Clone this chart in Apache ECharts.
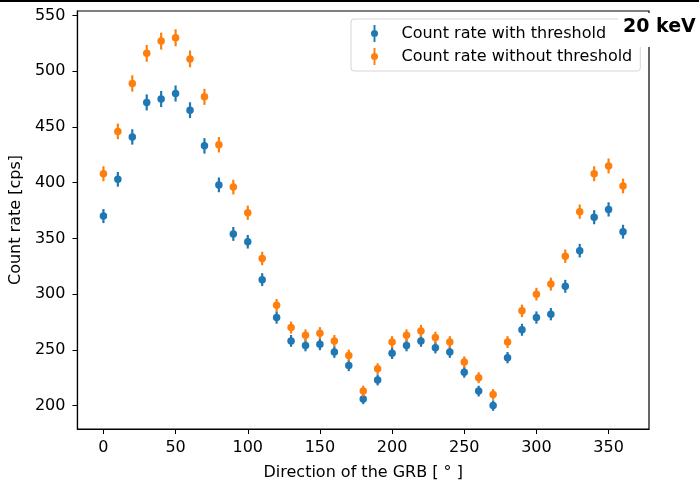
<!DOCTYPE html>
<html>
<head>
<meta charset="utf-8">
<title>Count rate vs GRB direction</title>
<script src="https://cdn.jsdelivr.net/npm/echarts@6/dist/echarts.min.js"></script>
<style>
  html, body { margin: 0; padding: 0; background: #fff; }
  #chartMain { width: 699px; height: 486px; }
</style>
</head>
<body>
<div id="chartMain"></div>
<script>
var myChart;

// direction of the GRB, degrees
var directions = [0, 10, 20, 30, 40, 50, 60, 70, 80, 90, 100, 110, 120, 130, 140, 150, 160, 170, 180,
  190, 200, 210, 220, 230, 240, 250, 260, 270, 280, 290, 300, 310, 320, 330, 340, 350, 360];

// count rate with threshold [cps]
var rateWith = [370, 403, 441, 472, 475, 480, 465, 433, 398, 354, 347, 313, 279, 258, 254, 255, 248, 236, 206,
  223, 247, 254, 258, 252, 248, 230, 213, 200, 243, 268, 279, 282, 307, 339, 369, 376, 356];
var errWith = [6.3, 6.6, 6.9, 7.2, 7.2, 7.2, 7.1, 6.9, 6.6, 6.2, 6.1, 5.8, 5.5, 5.3, 5.3, 5.3, 5.2, 5.1, 4.7,
  4.9, 5.2, 5.3, 5.3, 5.2, 5.2, 5.0, 4.8, 4.7, 5.1, 5.4, 5.5, 5.5, 5.8, 6.1, 6.3, 6.4, 6.2];

// count rate without threshold [cps]
var rateWithout = [408, 446, 489, 516, 527, 530, 511, 477, 434, 396, 373, 332, 290, 270, 263, 265, 258, 245, 213,
  233, 257, 263, 267, 261, 257, 239, 225, 210, 257, 285, 300, 309, 334, 374, 408, 415, 397];
var errWithout = [6.7, 7.0, 7.3, 7.5, 7.6, 7.6, 7.5, 7.2, 6.9, 6.6, 6.4, 6.0, 5.6, 5.4, 5.4, 5.4, 5.3, 5.2, 4.8,
  5.0, 5.3, 5.4, 5.4, 5.3, 5.3, 5.1, 4.9, 4.8, 5.3, 5.6, 5.7, 5.8, 6.0, 6.4, 6.7, 6.7, 6.6];

// tick labels
var xTicks = [0, 50, 100, 150, 200, 250, 300, 350];
var yTicks = [200, 250, 300, 350, 400, 450, 500, 550];

var seriesNames = ['Count rate with threshold', 'Count rate without threshold'];
var colors = ['#1f77b4', '#ff7f0e'];

var FONT = 'DejaVu Sans';
var FS = 16;

function points(ys) {
  var out = [];
  for (var i = 0; i < directions.length; i++) {
    out.push([directions[i], ys[i]]);
  }
  return out;
}

function errPoints(ys, errs) {
  var out = [];
  for (var i = 0; i < directions.length; i++) {
    out.push([directions[i], ys[i] - errs[i], ys[i] + errs[i]]);
  }
  return out;
}

//竖直误差线
function makeErrorBar(color) {
  return function(params, api) {
    var lo = api.coord([api.value(0), api.value(1)]);
    var hi = api.coord([api.value(0), api.value(2)]);
    return {
      type: 'line',
      shape: { x1: lo[0], y1: lo[1], x2: hi[0], y2: hi[1] },
      style: { stroke: color, lineWidth: 2.2 }
    };
  };
}

var legendIcon = 'path://M4.1,0 L5.9,0 L5.9,16 L4.1,16 Z M5,4.7 A3.3,3.3 0 1 1 5,11.3 A3.3,3.3 0 1 1 5,4.7 Z';

myChart = echarts.init(document.getElementById('chartMain'), null, { renderer: 'canvas' });

option = {
  animation: false,
  backgroundColor: '#fff',
  textStyle: { fontFamily: FONT },
  grid: {
    left: 76, top: 11, right: 50, bottom: 49, containLabel: false,
    show: true, borderColor: '#000', borderWidth: 1.2, backgroundColor: 'transparent'
  },
  xAxis: {
    type: 'value',
    min: -18,
    max: 378,
    name: 'Direction of the GRB [ ° ]',
    nameLocation: 'middle',
    nameGap: 36,
    nameTextStyle: { fontFamily: FONT, fontSize: FS, color: '#000' },
    axisLine: { show: true, onZero: false, lineStyle: { color: '#000', width: 1.2 } },
    axisTick: { show: true, length: 5, lineStyle: { color: '#000', width: 1 }, customValues: xTicks },
    axisLabel: { fontFamily: FONT, fontSize: FS, color: '#000', margin: 11, customValues: xTicks },
    splitLine: { show: false }
  },
  yAxis: {
    type: 'value',
    min: 179,
    max: 554,
    name: 'Count rate [cps]',
    nameLocation: 'middle',
    nameGap: 44,
    nameTextStyle: { fontFamily: FONT, fontSize: FS, color: '#000' },
    axisLine: { show: true, onZero: false, lineStyle: { color: '#000', width: 1.2 } },
    axisTick: { show: true, length: 5, lineStyle: { color: '#000', width: 1 }, customValues: yTicks },
    axisLabel: { fontFamily: FONT, fontSize: FS, color: '#000', margin: 12, customValues: yTicks },
    splitLine: { show: false }
  },
  legend: {
    orient: 'vertical',
    left: 351,
    top: 19,
    padding: [6, 8, 6, 20],
    itemGap: 6,
    itemWidth: 10,
    itemHeight: 17,
    backgroundColor: 'rgba(255,255,255,0.8)',
    borderColor: '#d6d6d6',
    borderWidth: 1,
    borderRadius: 3,
    data: [
      { name: seriesNames[0], icon: legendIcon },
      { name: seriesNames[1], icon: legendIcon }
    ],
    formatter: function(name) { return '{s|}{t|' + name + '}'; },
    textStyle: {
      rich: {
        s: { width: 17 },
        t: { fontFamily: FONT, fontSize: FS, color: '#000' }
      }
    }
  },
  graphic: [
    {
      type: 'rect',
      left: 0, top: 0,
      shape: { width: 699, height: 2 },
      style: { fill: '#000' },
      z: 100
    },
    {
      type: 'text',
      left: 618,
      top: 13,
      z: 100,
      style: {
        text: '20 keV',
        fontFamily: FONT,
        fontWeight: 'bold',
        fontSize: 19,
        fill: '#000',
        backgroundColor: '#fff',
        padding: [5, 6, 10, 5]
      }
    }
  ],
  series: [
    {
      type: 'custom',
      name: seriesNames[0] + ' err',
      renderItem: makeErrorBar(colors[0]),
      data: errPoints(rateWith, errWith),
      encode: { x: 0, y: [1, 2] },
      z: 2
    },
    {
      type: 'scatter',
      name: seriesNames[0],
      data: points(rateWith),
      symbol: 'circle',
      symbolSize: 7.5,
      itemStyle: { color: colors[0], opacity: 1 },
      z: 3
    },
    {
      type: 'custom',
      name: seriesNames[1] + ' err',
      renderItem: makeErrorBar(colors[1]),
      data: errPoints(rateWithout, errWithout),
      encode: { x: 0, y: [1, 2] },
      z: 4
    },
    {
      type: 'scatter',
      name: seriesNames[1],
      data: points(rateWithout),
      symbol: 'circle',
      symbolSize: 7.5,
      itemStyle: { color: colors[1], opacity: 1 },
      z: 5
    }
  ]
};

myChart.setOption(option);
</script>
</body>
</html>
